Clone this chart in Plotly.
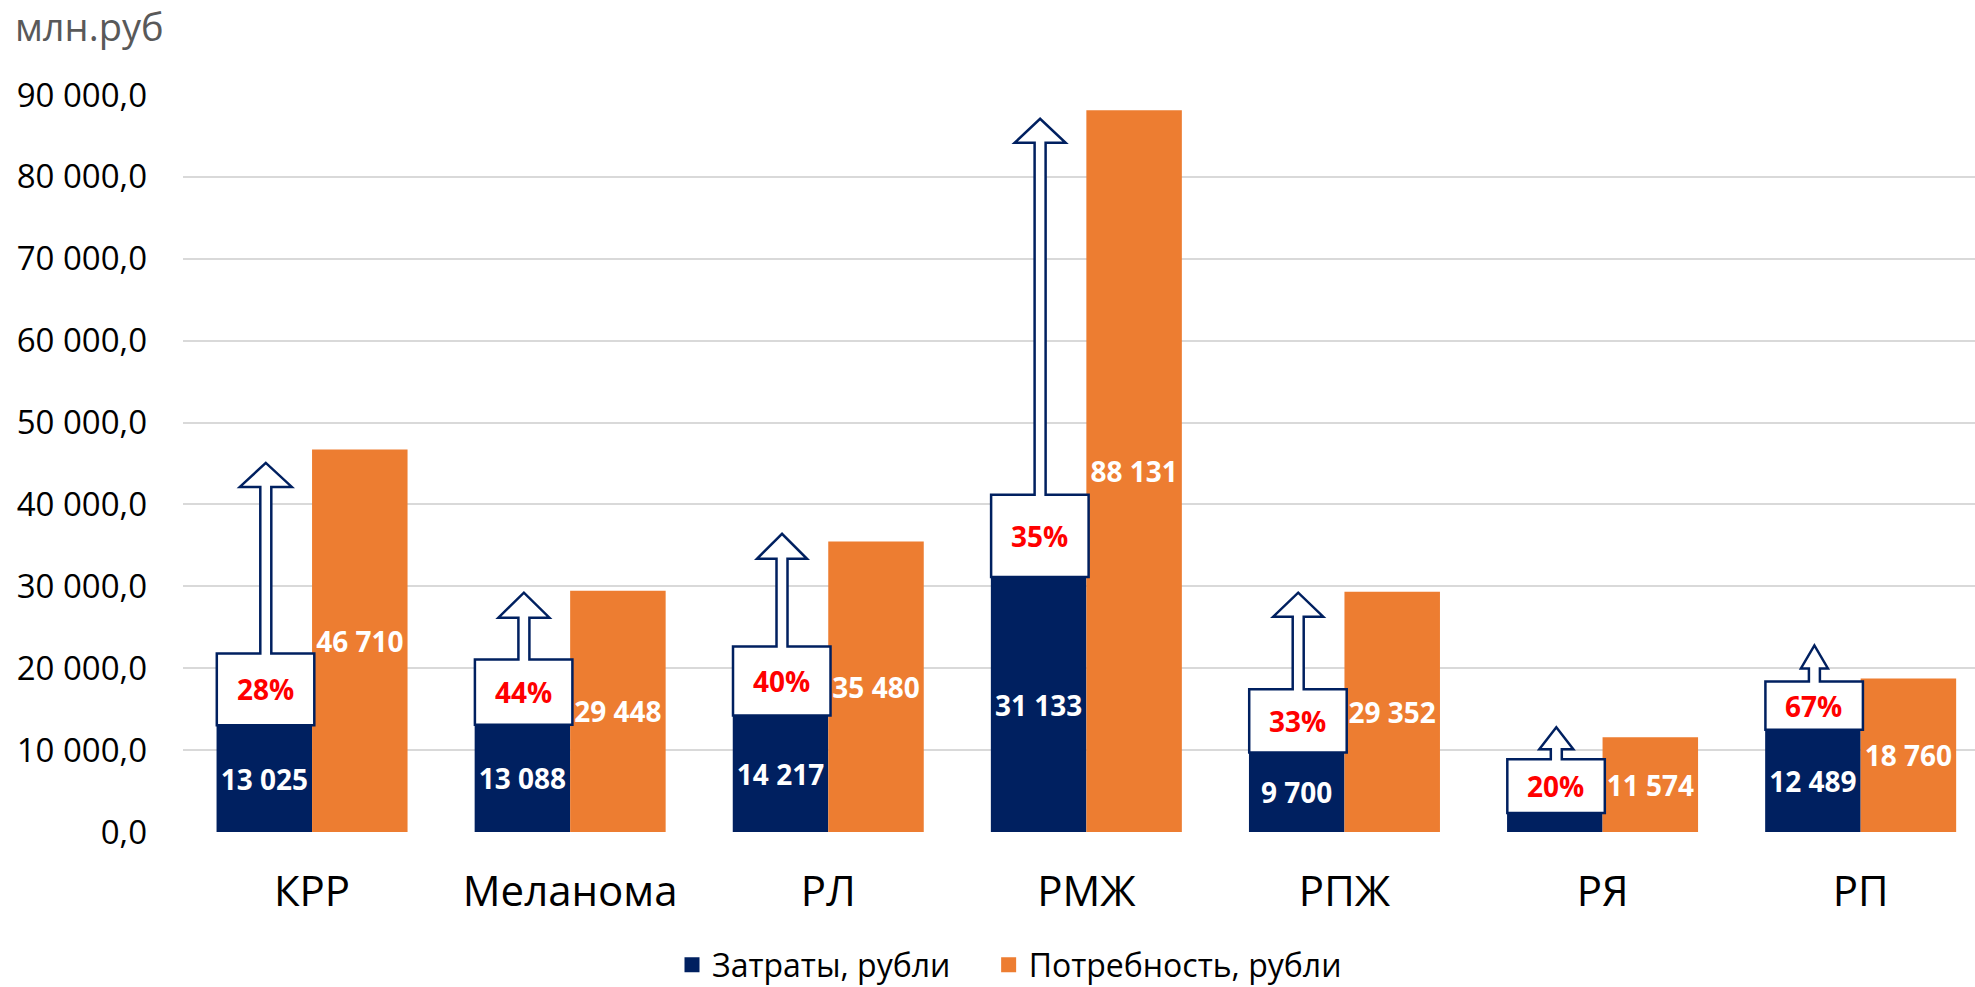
import plotly.graph_objects as go

# ---------------- data ----------------
categories = ["КРР", "Меланома", "РЛ", "РМЖ", "РПЖ", "РЯ", "РП"]
costs = [13025, 13088, 14217, 31133, 9700, 2315, 12489]          # Затраты
needs = [46710, 29448, 35480, 88131, 29352, 11574, 18760]        # Потребность
show_cost_label = [True, True, True, True, True, False, True]
y_tick_values = [0, 10000, 20000, 30000, 40000, 50000, 60000, 70000, 80000, 90000]
y_tick_labels = ["0,0", "10 000,0", "20 000,0", "30 000,0", "40 000,0",
                 "50 000,0", "60 000,0", "70 000,0", "80 000,0", "90 000,0"]
series_names = ["Затраты, рубли", "Потребность, рубли"]

# callout-arrow annotation geometry (value levels of the hand-drawn arrows)
callout_box_top = [21800, 21070, 22650, 41170, 17420, 8890, 18390]
callout_tip = [45070, 29230, 36420, 87090, 29230, 12790, 22780]
head_width_px = [52, 51, 50, 51, 50, 34, 27]
head_height_px = [24, 25, 25, 24, 24, 22, 23]

# ---------------- styling ----------------
NAVY = "#002060"
ORANGE = "#ED7D31"
FONT = "Open Sans"
W, H = 1975, 987
M_L, M_R, M_T, M_B = 183, 0, 95, 155
Y_MAX = 90000
plot_h = H - M_T - M_B
plot_w = W - M_L - M_R
px_per_unit = plot_h / Y_MAX
BARGAP = 0.26
X_RANGE = [-0.5, 6.443]
LEGEND_GAP = "\u00a0" * 4   # extra visual spacing between legend entries


def fmt(v):
    return f"{v:,}".replace(",", " ")


fig = go.Figure()
fig.add_bar(
    x=categories, y=costs, name=series_names[0], marker_color=NAVY,
    marker_line_width=0, showlegend=False,
    text=[fmt(v) if s else "" for v, s in zip(costs, show_cost_label)],
    textposition="inside", insidetextanchor="middle", constraintext="none",
    textfont=dict(family=FONT, size=28, color="white", weight="bold"),
    hoverinfo="skip",
)
fig.add_bar(
    x=categories, y=needs, name=series_names[1], marker_color=ORANGE,
    marker_line_width=0, showlegend=False,
    text=[fmt(v) for v in needs],
    textposition="inside", insidetextanchor="middle", constraintext="none",
    textfont=dict(family=FONT, size=28, color="white", weight="bold"),
    hoverinfo="skip",
)
# legend entries with larger square swatches
for nm, col, gap in [(series_names[0], NAVY, LEGEND_GAP), (series_names[1], ORANGE, "")]:
    fig.add_scatter(
        x=[None], y=[None], mode="markers", name=nm + gap,
        marker=dict(symbol="square", size=15, color=col, line_width=0),
        hoverinfo="skip",
    )

# dark-bar centre offset in category units
bar_w = (1 - BARGAP) / 2
offset = -bar_w / 2

shapes = []
annotations = []
for i, (c, n) in enumerate(zip(costs, needs)):
    top = callout_box_top[i]
    tip = callout_tip[i]
    hb = tip - head_height_px[i] / px_per_unit
    hw = head_width_px[i] / 2
    L, R, cx, sw = -47.5, 50.0, 1.5, 5.5
    path = (f"M{L},{c} L{R},{c} L{R},{top} L{cx+sw},{top} L{cx+sw},{hb} "
            f"L{cx+hw},{hb} L{cx},{tip} L{cx-hw},{hb} L{cx-sw},{hb} "
            f"L{cx-sw},{top} L{L},{top} Z")
    shapes.append(dict(
        type="path", xref="x", yref="y", xsizemode="pixel",
        xanchor=i + offset, path=path, fillcolor="white",
        line=dict(color=NAVY, width=2.5), layer="above",
    ))
    annotations.append(dict(
        x=i + offset, y=(c + top) / 2, xref="x", yref="y",
        text=f"{round(c / n * 100)}%", showarrow=False, xshift=1,
        font=dict(family=FONT, size=28, color="#FF0000", weight="bold"),
    ))

annotations.append(dict(
    x=(13 - M_L) / plot_w, y=1 + (M_T - 26) / plot_h,
    xref="paper", yref="paper",
    text="млн.руб", showarrow=False, xanchor="left", yanchor="middle",
    font=dict(family=FONT, size=38, color="#595959"),
))

fig.update_layout(
    width=W, height=H,
    margin=dict(l=M_L, r=M_R, t=M_T, b=M_B, pad=0, autoexpand=False),
    paper_bgcolor="white", plot_bgcolor="white",
    barmode="group", bargap=BARGAP, bargroupgap=0,
    shapes=shapes, annotations=annotations,
    showlegend=True,
    legend=dict(
        orientation="h", x=(672 - M_L) / plot_w, xanchor="left",
        y=-(965 - (H - M_B)) / plot_h, yanchor="middle",
        font=dict(family=FONT, size=32, color="black"),
        itemwidth=30, traceorder="normal",
    ),
    font=dict(family=FONT, color="black"),
)
fig.update_yaxes(
    range=[0, Y_MAX], tickvals=y_tick_values, ticktext=y_tick_labels,
    showgrid=True, gridcolor="#D9D9D9", gridwidth=1.5, zeroline=False,
    showline=False, ticks="", ticklabelstandoff=35, automargin=False,
    tickfont=dict(family=FONT, size=33, color="black"),
)
fig.update_xaxes(
    range=X_RANGE, showgrid=False, showline=False, ticks="",
    ticklabelstandoff=31, automargin=False,
    tickfont=dict(family=FONT, size=42, color="black"),
)

fig.write_html(
    "out.html",
    config={"displayModeBar": False},
    post_script="document.body.style.margin='0';document.body.style.overflow='hidden';",
)
